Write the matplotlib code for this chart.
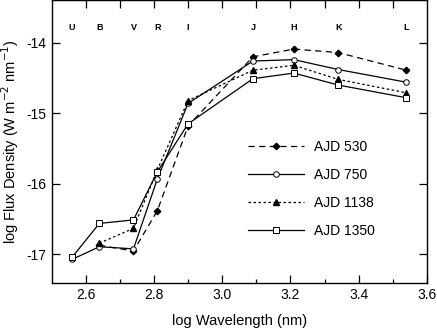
import matplotlib
matplotlib.use("Agg")
import matplotlib.pyplot as plt
import numpy as np

plt.rcParams['font.family'] = ['Liberation Sans', 'DejaVu Sans']

bands = ["U", "B", "V", "R", "I", "J", "H", "K", "L"]
logwl = [2.56, 2.64, 2.74, 2.81, 2.90, 3.09, 3.21, 3.34, 3.54]

# None = no measurement at that band
ajd530 = [None, -16.87, -16.95, -16.38, -15.18, -14.20, -14.09, -14.14, -14.39]
ajd750 = [-17.07, -16.89, -16.92, -15.93, -14.86, -14.26, -14.24, -14.38, -14.56]
ajd1138 = [None, -16.84, -16.63, -15.80, -14.82, -14.39, -14.32, -14.52, -14.71]
ajd1350 = [-17.04, -16.56, -16.51, -15.83, -15.15, -14.51, -14.43, -14.60, -14.78]

labels = ["AJD 530", "AJD 750", "AJD 1138", "AJD 1350"]


def clean(vals):
    x = [w for w, v in zip(logwl, vals) if v is not None]
    y = [v for v in vals if v is not None]
    return x, y


fig = plt.figure(figsize=(4.37, 3.28), dpi=100)
ax = fig.add_axes([0.118, 0.138, 0.859, 0.861])

lw = 0.9
x, y = clean(ajd530)
ax.plot(x, y, color='black', lw=lw, dashes=(5, 3.5), marker='D', ms=3.3,
        mfc='black', mec='black', label=labels[0])
x, y = clean(ajd750)
ax.plot(x, y, color='black', lw=lw, ls='-', marker='o', ms=4,
        mfc='white', mec='black', mew=0.7, label=labels[1])
x, y = clean(ajd1138)
ax.plot(x, y, color='black', lw=lw, dashes=(2, 2), marker='^', ms=4.2,
        mfc='black', mec='black', label=labels[2])
x, y = clean(ajd1350)
ax.plot(x, y, color='black', lw=lw, ls='-', marker='s', ms=4,
        mfc='white', mec='black', mew=0.7, label=labels[3])

ax.set_xlim(2.5, 3.6)
ax.set_ylim(-17.4, -13.4)
ax.set_xticks(np.arange(2.6, 3.61, 0.2))
ax.set_xticks(np.arange(2.7, 3.6, 0.2), minor=True)
ax.set_yticks([-17, -16, -15, -14])
ax.set_xticklabels(["2.6", "2.8", "3.0", "3.2", "3.4", "3.6"])
ax.set_yticklabels(["-17", "-16", "-15", "-14"])
ax.tick_params(which='major', direction='in', length=6, width=0.9,
               right=True, labelsize=10)
ax.tick_params(which='minor', direction='in', length=3, width=0.9)

top = ax.secondary_xaxis('top')
top.set_xticks(np.arange(2.6, 3.51, 0.1))
top.tick_params(direction='in', length=6, width=0.9, labeltop=False)

for s in ax.spines.values():
    s.set_linewidth(1.0)

for b, w in zip(bands, logwl):
    ax.text(w, 0.905, b, transform=ax.get_xaxis_transform(), ha='center',
            va='center', fontsize=6.5, fontweight='bold')

ax.set_xlabel("log Wavelength (nm)", fontsize=10.5, labelpad=9)
ax.set_ylabel(r"log Flux Density (W m$^{-2}$ nm$^{-1}$)", fontsize=10.5, labelpad=4)

ax.legend(loc='upper left', bbox_to_anchor=(0.505, 0.53), frameon=False,
          fontsize=10, handlelength=4.0, labelspacing=1.0, borderpad=0,
          handletextpad=0.75)

fig.savefig("out.png", dpi=100)
